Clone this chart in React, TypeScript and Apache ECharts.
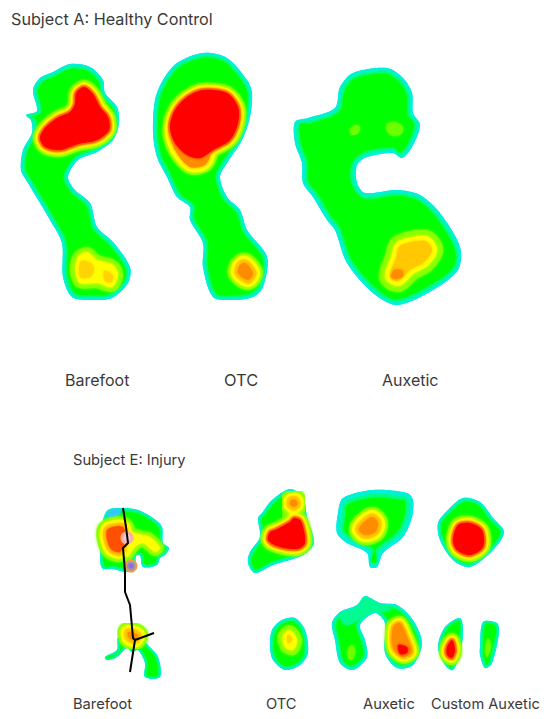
import React, { useEffect, useRef } from "react";
import * as echarts from "echarts";

type P = number[];
const footA1: P[] = [[40,78],[53,72],[70,64],[90,67],[103,80],[105,93],[117,107],[119,123],[113,140],[97,152],[78,160],[68,177],[75,190],[90,203],[97,227],[113,242],[130,267],[128,283],[112,298],[90,300],[72,297],[63,277],[62,243],[50,220],[40,203],[28,183],[21,170],[23,150],[32,133],[31,120],[26,115],[37,111],[33,90]];
const a1Fore: P[] = [[45,128],[57,118],[70,112],[75,104],[76,93],[84,87],[93,94],[100,107],[108,117],[109,130],[97,140],[78,144],[60,150],[45,147],[40,138]];
const a1Heel: P[] = [[78,257],[87,252],[97,260],[113,265],[118,275],[112,287],[97,283],[80,283],[75,270]];
const a1HeelCoreA: P[] = [[81,261],[91,263],[94,270],[90,277],[80,277]];
const a1HeelCoreB: P[] = [[104,271],[112,274],[112,282],[105,281]];

const footA2: P[] = [[155,100],[163,80],[177,63],[203,53],[227,58],[247,80],[252,93],[250,117],[242,140],[227,163],[220,177],[227,197],[240,210],[247,230],[267,257],[263,287],[253,297],[232,300],[213,297],[203,267],[203,243],[190,220],[190,207],[177,197],[167,177],[157,157],[153,133]];
const a2Fore: P[] = [[175,110],[187,97],[203,90],[227,93],[238,107],[238,123],[230,140],[213,150],[200,158],[187,155],[175,143],[170,127]];
const a2ForeBand: P[] = [[170,130],[175,150],[190,167],[205,165],[210,152],[190,140]];
const a2Heel: P[] = [[245,263],[253,273],[248,280],[238,273],[240,265]];

const footA3: P[] = [[295,122],[308,118],[335,108],[340,87],[353,73],[387,68],[403,78],[412,93],[413,113],[420,125],[412,147],[402,158],[393,153],[367,157],[357,165],[357,183],[365,193],[397,190],[420,195],[440,213],[460,247],[458,270],[433,290],[397,305],[373,293],[347,263],[335,230],[327,220],[313,197],[303,183],[302,163],[295,143]];
const a3SpotA: P[] = [[350,130],[355,125],[360,127],[358,133],[352,135]];
const a3SpotB: P[] = [[387,124],[395,122],[403,127],[401,134],[393,136],[387,131]];
const a3Heel: P[] = [[400,246],[425,241],[432,250],[424,262],[410,270],[398,281],[390,276],[396,258]];
const a3HeelCore: P[] = [[394,270],[402,270],[403,276],[396,279],[391,277]];

const eBareTop: P[] = [[103,520],[108,510],[122,508],[138,510],[153,518],[162,527],[163,543],[169,548],[165,555],[160,558],[157,565],[143,567],[140,555],[136,556],[135,568],[127,572],[113,569],[102,568],[100,550],[101,537]];
const eBareBlue: P[] = [[107,518],[110,511],[120,510],[120,514],[112,518]];
const eBareArm: P[] = [[123,532],[142,535],[150,537],[160,548],[155,552],[143,543],[135,547],[127,557]];
const eBareCore: P[] = [[107,530],[123,527],[125,540],[120,552],[110,548]];
const eBareLow: P[] = [[105,657],[117,650],[118,637],[127,629],[138,630],[143,638],[148,645],[158,657],[160,677],[145,677],[145,663],[138,650],[132,652],[127,648],[117,657],[107,660]];
const eBareLowCore: P[] = [[128,632],[138,635],[135,640],[129,638]];

const eOtcTop: P[] = [[262,513],[272,500],[290,489],[303,497],[307,517],[314,543],[303,555],[273,565],[255,573],[248,563],[250,552],[260,537],[258,518]];
const eOtcTopCore: P[] = [[275,530],[290,522],[294,518],[301,521],[305,543],[297,549],[277,546],[268,540],[270,532]];
const eOtcToe: P[] = [[291,500],[296,500],[297,505],[293,507],[290,504]];
const eOtcNeck: P[] = [[291,505],[295,505],[296,520],[290,520]];
const eAuxTop: P[] = [[343,498],[373,490],[407,493],[413,500],[412,517],[403,537],[383,553],[377,567],[370,567],[367,553],[347,543],[337,533],[338,513]];
const eAuxTopCore: P[] = [[362,524],[372,517],[378,523],[375,532],[365,535],[359,530]];
const eCusTop: P[] = [[438,523],[448,510],[463,498],[480,502],[493,518],[504,532],[493,550],[470,567],[453,560],[440,540]];
const eCusTopCore: P[] = [[458,525],[470,523],[482,530],[483,547],[470,555],[457,550],[453,540]];

const eOtcLow: P[] = [[272,630],[282,620],[295,618],[305,630],[308,653],[300,665],[285,670],[273,660],[270,647]];
const eOtcLowCore: P[] = [[283,635],[290,630],[297,640],[293,650],[285,647]];
const eOtcLowGold: P[] = [[287,636],[291,636],[292,641],[288,643]];
const eAuxLow: P[] = [[332,623],[340,612],[357,605],[365,596],[380,603],[397,605],[413,620],[422,643],[413,665],[397,668],[385,653],[385,623],[375,613],[360,625],[365,640],[367,657],[353,670],[340,663],[335,640]];
const eAuxLowTeal: P[] = [[340,616],[357,608],[365,600],[380,606],[392,609],[380,612],[372,611],[358,620],[346,625]];
const eAuxLowSpot: P[] = [[348,648],[353,645],[355,653],[352,660],[348,658]];
const eAuxLowCore: P[] = [[393,627],[400,623],[407,637],[412,652],[403,657],[393,648]];
const eAuxLowRed: P[] = [[398,645],[407,647],[407,653],[400,654]];
const eCusLowA: P[] = [[438,647],[445,627],[460,618],[463,633],[460,653],[453,670],[445,665]];
const eCusLowACore: P[] = [[447,647],[452,640],[455,650],[452,658],[447,655]];
const eCusLowB: P[] = [[483,622],[497,623],[499,633],[492,663],[485,668],[480,655],[480,647]];
const eCusLowBSpot: P[] = [[488,638],[491,647],[487,657],[485,650]];

const feet: [P[], number][] = [[footA1, 1], [footA2, 1], [footA3, 1.2], [eBareTop, 0.7], [eBareLow, 0.6], [eOtcTop, 0.8], [eAuxTop, 1.6], [eCusTop, 0.8], [eOtcLow, 0.8], [eAuxLow, 0.9], [eCusLowA, 0.7], [eCusLowB, 0.7]];
const hotspots: [P[], string][] = [
  [a1Fore, "red"], [a1Heel, "yellow"], [a1HeelCoreA, "flatGold"], [a1HeelCoreB, "flatGold"],
  [a2Fore, "limeBand"], [a2ForeBand, "limeBand"], [a2Fore, "yellowBand"], [a2ForeBand, "yellowBand"], [a2Fore, "orangeBand"], [a2ForeBand, "flatOrange"], [a2Fore, "flatRed"], [a2Heel, "orange"],
  [a3SpotA, "lime"], [a3SpotB, "lime"], [a3Heel, "gold"], [a3HeelCore, "flatOrange"],
  [eBareBlue, "blue"],
  [eBareArm, "limeNarrow"], [eBareCore, "limeWide"], [eBareArm, "flatYellow"], [eBareCore, "yellowWide"], [eBareCore, "goldWide"], [eBareCore, "flatHot"],
  [eBareLowCore, "orange"],
  [eOtcNeck, "limeBand"], [eOtcToe, "limeWide"], [eOtcTopCore, "limeBand"],
  [eOtcNeck, "flatYellow"], [eOtcToe, "yellowWide"], [eOtcTopCore, "yellowBand"],
  [eOtcToe, "goldWide"], [eOtcToe, "flatOrange"], [eOtcTopCore, "orangeBand"], [eOtcTopCore, "flatRed"],
  [eAuxTopCore, "orange"], [eCusTopCore, "red"],
  [eOtcLowCore, "yellow"], [eOtcLowGold, "flatGold"],
  [eAuxLowTeal, "teal"], [eAuxLowSpot, "lime"], [eAuxLowCore, "orangeTight"], [eAuxLowRed, "flatRed"],
  [eCusLowACore, "red"], [eCusLowBSpot, "lime"],
];

const footline: P[] = [[123,508],[126,527],[128,543],[123,548],[125,572],[125,592],[130,605],[133,638],[135,640],[130,672]];
const footBranch: P[] = [[135,640],[154,633]];

const CYAN = "#00f0e0", SPRING = "#00fb90", GREEN = "#00ff00", LIME = "#86ff00", YELLOW = "#ffff00", GOLD = "#ffc800", ORANGE = "#ff8c00", RED = "#ff0000";
const stacks: Record<string, [string, number][]> = {
  red: [[LIME, 14], [YELLOW, 9], [ORANGE, 4], [RED, 0]],
  orange: [[LIME, 20], [YELLOW, 14], [GOLD, 7], [ORANGE, 0]],
  orangeTight: [[LIME, 14], [YELLOW, 9], [GOLD, 4], [ORANGE, 0]],
  gold: [[LIME, 22], [YELLOW, 10], [GOLD, 0]],
  yellow: [[LIME, 10], [YELLOW, 0]],
  limeBand: [[LIME, 14]],
  limeNarrow: [[LIME, 8]],
  limeWide: [[LIME, 20]],
  yellowBand: [[YELLOW, 9]],
  yellowWide: [[YELLOW, 13]],
  goldWide: [[GOLD, 7]],
  orangeBand: [[ORANGE, 4]],
  lime: [["#6cff00", 0]],
  flatYellow: [[YELLOW, 0]],
  flatHot: [["#ff5000", 0]],
  flatGold: [["#ffd400", 0]],
  flatOrange: [[ORANGE, 0]],
  flatRed: [[RED, 0]],
  blue: [["#30c8ff", 0]],
  teal: [[SPRING, 0]],
};

function inset(pts: P[], d: number): P[] {
  let area = 0;
  pts.forEach((p, i) => { const q = pts[(i + 1) % pts.length]; area += p[0] * q[1] - q[0] * p[1]; });
  const s = area > 0 ? 1 : -1;
  return pts.map((p, i) => {
    const a = pts[(i - 1 + pts.length) % pts.length], b = pts[(i + 1) % pts.length];
    const dx = b[0] - a[0], dy = b[1] - a[1], l = Math.hypot(dx, dy) || 1;
    return [p[0] - (s * dy * d) / l, p[1] + (s * dx * d) / l];
  });
}

type Layer = { pts: P[]; color: string; width: number; blur: number };
const layers: Layer[] = [];
feet.forEach(([f, k]) => {
  layers.push({ pts: f, color: CYAN, width: 0, blur: 1.5 });
  layers.push({ pts: inset(f, 2.5 * k), color: SPRING, width: 0, blur: 2 });
  layers.push({ pts: inset(f, 5 * k), color: GREEN, width: 0, blur: 3 });
});
hotspots.forEach(([pts, name]) => {
  stacks[name].forEach(([color, width]) => layers.push({ pts, color, width, blur: 3 }));
});

const markerA = [[127, 538, 6.5, "#f7b0a8"], [127, 538, 3.5, "#f4c8d8"]];
const markerB = [[131, 566, 6.5, "#f0a040"], [131, 566, 4.5, "#9098b0"], [131, 566, 2.5, "#a060e0"]];
const markers = [...markerA, ...markerB];

const labels: [string, number, number, number][] = [
  ["Subject A: Healthy Control", 11, 19, 16.2],
  ["Barefoot", 65, 380, 16],
  ["OTC", 224, 380, 16.4],
  ["Auxetic", 382, 380, 16],
  ["Subject E: Injury", 73, 460, 14.7],
  ["Barefoot", 73, 704, 14.7],
  ["OTC", 266, 704, 14.7],
  ["Auxetic", 363, 704, 14.7],
  ["Custom Auxetic", 431, 704, 14.6],
];

export default function App() {
  const ref = useRef<HTMLDivElement>(null);
  useEffect(() => {
    document.body.style.margin = "0";
    const chart = echarts.init(ref.current!, undefined, { renderer: "svg" });
    chart.setOption({
      animation: false,
      backgroundColor: "#ffffff",
      grid: { left: 0, right: 0, top: 0, bottom: 0 },
      xAxis: { type: "value", min: 0, max: 550, show: false },
      yAxis: { type: "value", min: 0, max: 719, inverse: true, show: false },
      graphic: labels.map(([text, x, y, size]) => ({
        type: "text", x, y,
        style: { text, fill: "#3a3a3a", font: `${size}px Inter`, verticalAlign: "middle" },
      })),
      series: [
        {
          type: "custom",
          silent: true,
          clip: false,
          data: layers.map((_, i) => [i, 0]),
          renderItem: (params: any, api: any) => {
            const l = layers[params.dataIndex];
            return {
              type: "polygon",
              shape: { points: l.pts.map((p) => api.coord(p)), smooth: 0.3 },
              style: {
                fill: l.color,
                stroke: l.width ? l.color : "none",
                lineWidth: l.width,
                lineJoin: "round",
                shadowBlur: l.blur,
                shadowColor: l.color,
              },
            };
          },
        },
        {
          type: "custom",
          silent: true,
          clip: false,
          z: 4,
          data: markers.map((_, i) => [i, 0]),
          renderItem: (params: any, api: any) => {
            const [x, y, r, c] = markers[params.dataIndex] as [number, number, number, string];
            const [cx, cy] = api.coord([x, y]);
            return { type: "circle", shape: { cx, cy, r }, style: { fill: c } };
          },
        },
        ...[footline, footBranch].map((data) => ({
          type: "line",
          data,
          z: 5,
          showSymbol: false,
          silent: true,
          lineStyle: { color: "#000000", width: 2 },
        })),
      ],
    });
    return () => chart.dispose();
  }, []);
  return <div ref={ref} style={{ width: 550, height: 719 }} />;
}
